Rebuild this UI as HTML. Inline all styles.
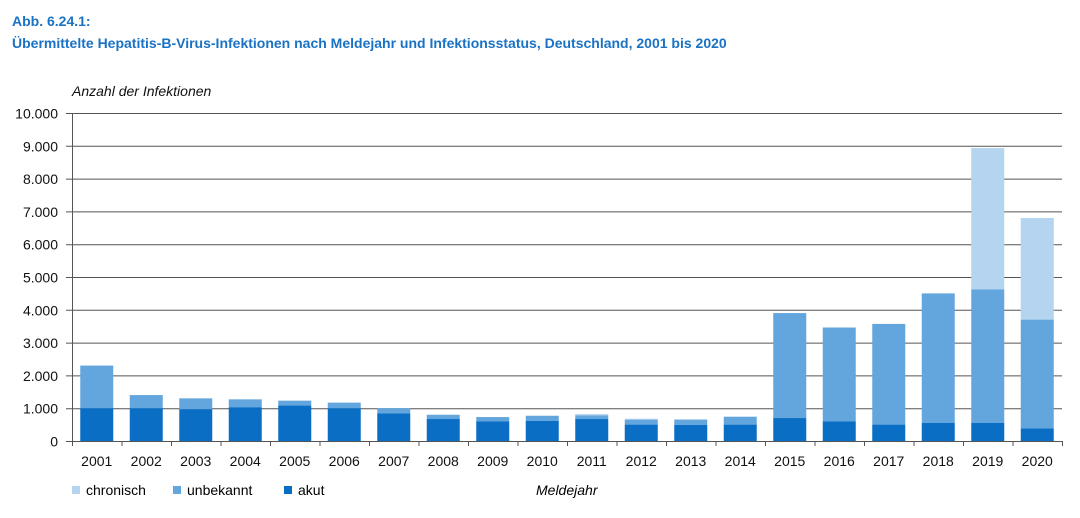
<!DOCTYPE html><html><head><meta charset="utf-8"><style>body{margin:0;background:#fff;font-family:"Liberation Sans",sans-serif}</style></head><body>
<svg width="1080" height="513" xmlns="http://www.w3.org/2000/svg" font-family="Liberation Sans, sans-serif">
<text x="12" y="26" fill="#1a72c4" font-size="14" font-weight="bold">Abb. 6.24.1:</text>
<text x="12" y="48" fill="#1a72c4" font-size="14" font-weight="bold">Übermittelte Hepatitis-B-Virus-Infektionen nach Meldejahr und Infektionsstatus, Deutschland, 2001 bis 2020</text>
<text x="72" y="96" font-size="14" font-style="italic" fill="#111">Anzahl der Infektionen</text>
<g id="grid" stroke="#555" stroke-width="1"></g>
<g id="bars"></g>
<g id="lbl" font-size="14" fill="#111"></g>
<rect x="72" y="486" width="8" height="8" fill="#b4d4ef"/><text x="86" y="495" font-size="14">chronisch</text>
<rect x="173" y="486" width="8" height="8" fill="#63a6dd"/><text x="187" y="495" font-size="14">unbekannt</text>
<rect x="284" y="486" width="8" height="8" fill="#0a6fc4"/><text x="298" y="495" font-size="14">akut</text>
<text x="536" y="495" font-size="14" font-style="italic">Meldejahr</text>
</svg>
<script>
var ns="http://www.w3.org/2000/svg",g=document.getElementById('grid'),b=document.getElementById('bars'),l=document.getElementById('lbl');
function el(p,t,a,txt){var e=document.createElementNS(ns,t);for(var k in a)e.setAttribute(k,a[k]);if(txt)e.textContent=txt;p.appendChild(e);return e}
function Y(v){return 441-v*0.0328}
for(var i=0;i<=10;i++){var y=Y(i*1000)+0.5;el(g,'line',{x1:66,x2:1062,y1:y,y2:y});el(l,'text',{x:58,y:y+5,'text-anchor':'end'},i==0?'0':i+'.000')}
el(g,'line',{x1:72.5,x2:72.5,y1:Y(10000),y2:446});
var d=[[1000,2300,0],[1000,1400,0],[970,1300,0],[1030,1270,0],[1080,1230,0],[1000,1170,0],[840,1000,0],[670,800,0],[600,730,0],[610,770,0],[670,780,820],[500,650,680],[490,640,670],[500,740,0],[700,3900,0],[600,3460,0],[500,3570,0],[550,4500,0],[550,4620,8930],[380,3700,6800]];
d.forEach(function(r,i){var c=72+49.5*i+24.75,x=c-16.5;
if(r[2])el(b,'rect',{x:x,y:Y(r[2]),width:33,height:Y(r[1])-Y(r[2]),fill:'#b4d4ef'});
el(b,'rect',{x:x,y:Y(r[1]),width:33,height:Y(r[0])-Y(r[1]),fill:'#63a6dd'});
el(b,'rect',{x:x,y:Y(r[0]),width:33,height:441-Y(r[0]),fill:'#0a6fc4'});
el(g,'line',{x1:72+49.5*(i+1)+.5,x2:72+49.5*(i+1)+.5,y1:441,y2:446});
el(l,'text',{x:c,y:466,'text-anchor':'middle'},String(2001+i));});
</script></body></html>
